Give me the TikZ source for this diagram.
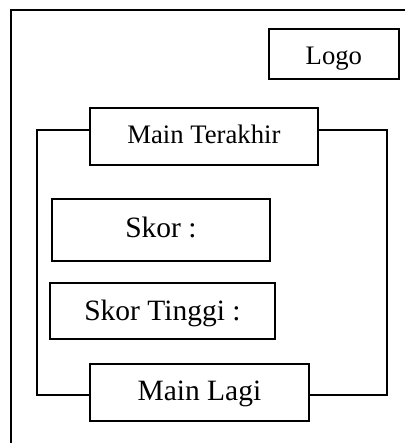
\documentclass[tikz,border=0pt]{standalone}
\usepackage{fontspec}
\setmainfont{Liberation Serif}
\begin{document}
\begin{tikzpicture}[x=1pt,y=-1pt,line width=1.8pt,
  box/.style={draw,inner sep=0pt,anchor=north west,text depth=0pt},
  small/.style={font=\fontsize{26.7}{30}\selectfont},
  big/.style={font=\fontsize{29.5}{33}\selectfont}]
\useasboundingbox (0,0) rectangle (404,443);
% screen frame (open at the right and bottom)
\coordinate (fb) at (11,450);
\coordinate (ft) at (11,10);
\coordinate (fr) at (410,10);
\draw[line cap=butt] (fb) -- (ft) -- (fr);
% widgets
\node[box,small,text height=22pt,minimum width=130pt,minimum height=50pt] (logo) at (268,28) {Logo};
\node[box,small,text height=13.4pt,minimum width=228pt,minimum height=57pt] (mt) at (89,107) {Main Terakhir};
\node[box,big,text height=15.4pt,minimum width=218pt,minimum height=62pt] (skor) at (51,198) {Skor :};
\node[box,big,text height=20pt,minimum width=225pt,minimum height=56pt] (tinggi) at (49,282) {Skor Tinggi :};
\node[box,big,text height=17pt,minimum width=219pt,minimum height=57pt] (lagi) at (89,363) {Main Lagi};
% bracket joining the two buttons
\coordinate (tl) at (37,130);
\coordinate (bl) at (37,395);
\coordinate (tr) at (387,130);
\coordinate (br) at (387,395);
\draw (mt.west |- tl) -- (tl) -- (bl) -- (lagi.west |- bl);
\draw (mt.east |- tr) -- (tr) -- (br) -- (lagi.east |- br);
\end{tikzpicture}
\end{document}
